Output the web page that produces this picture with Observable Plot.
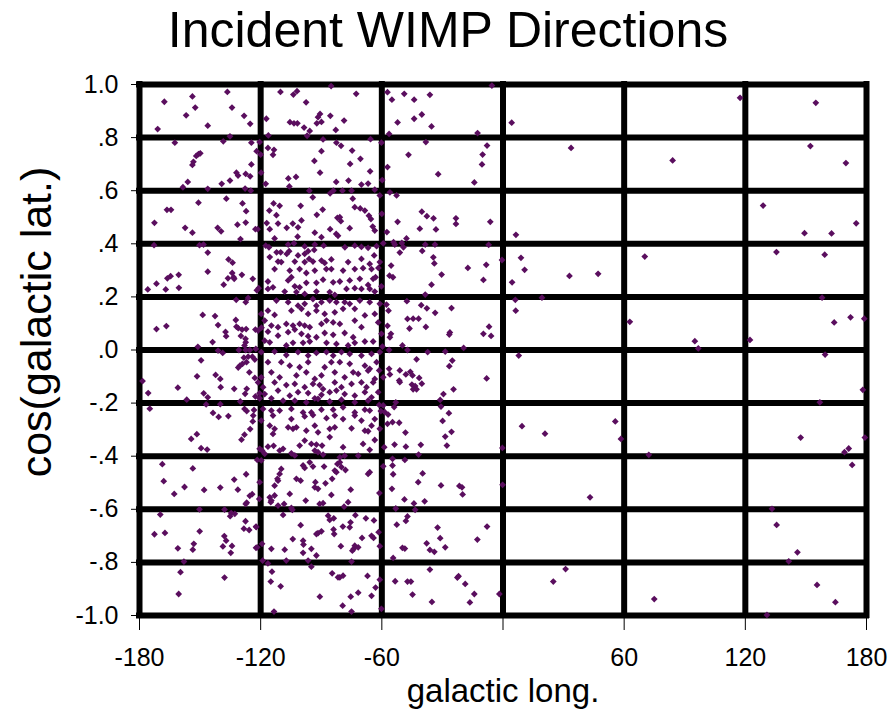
<!DOCTYPE html>
<html><head><meta charset="utf-8">
<script src="https://cdn.jsdelivr.net/npm/d3@7"></script>
<script src="https://cdn.jsdelivr.net/npm/@observablehq/plot@0.6"></script>
<style>body{margin:0;background:#fff;}</style>
</head><body><div id="chart"></div>
<script>
const title = "Incident WIMP Directions";
const xLabel = "galactic long.";
const yLabel = "cos(galactic lat.)";
const xTicks = [-180, -120, -60, 0, 60, 120, 180];
const xTickLabels = ["-180", "-120", "-60", "", "60", "120", "180"];
const yTicks = [1, 0.8, 0.6, 0.4, 0.2, 0, -0.2, -0.4, -0.6, -0.8, -1];
const yTickLabels = ["1.0", ".8", ".6", ".4", ".2", ".0", "-.2", "-.4", "-.6", "-.8", "-1.0"];
const gridLon = [-180, -120, -60, 0, 60, 120, 180];
const gridLat = [-1, -0.8, -0.6, -0.4, -0.2, 0, 0.2, 0.4, 0.6, 0.8, 1];

// longitude -180..-120
const bandA = [
[-153.8,0.955],[-136.5,0.972],[-167.7,0.935],[-152.4,0.913],[-134.2,0.913],[-156.9,0.884],[-128.2,0.882],[-125.2,0.852],[-146.2,0.845],[-171,0.832],[-162.5,0.781],[-138.5,0.786],[-135.2,0.805],[-124.6,0.781],
[-150.8,0.738],[-151.9,0.731],[-149.9,0.741],[-153.3,0.709],[-153.8,0.697],[-124.6,0.699],[-119.8,0.668],[-132,0.668],[-131.2,0.657],[-127.4,0.663],[-125.2,0.654],[-135.2,0.638],[-139.3,0.626],[-156.1,0.633],[-158.5,0.613],[-146.2,0.607],[-127.7,0.608],[-124.9,0.6],[-137,0.57],[-150.8,0.555],[-166.4,0.528],[-164.4,0.528],[-129,0.552],[-127.2,0.523],[-172.6,0.479],[-157.4,0.46],[-153.8,0.442],[-141.3,0.46],[-139.6,0.447],[-131.5,0.472],[-127.4,0.48],[-122.6,0.455],[-130,0.418],[-172.8,0.395],[-150.3,0.395],[-148.3,0.397],[-146.2,0.367],
[-135.9,0.341],[-133.9,0.329],[-146.2,0.295],[-134.1,0.29],[-129.3,0.283],[-136.2,0.27],[-133.4,0.274],[-133.1,0.268],[-164.6,0.278],[-166.2,0.27],[-160.6,0.283],[-171.6,0.25],[-175.9,0.228],[-167,0.228],[-160.5,0.234],[-138.3,0.246],[-123.9,0.268],[-121,0.233],[-121.9,0.225],
[-132.1,0.189],[-127.4,0.18],[-126.2,0.196],[-148.7,0.132],[-142.6,0.128],[-171.6,0.079],[-166.7,0.09],[-141.1,0.094],[-132.3,0.113],[-132,0.088],[-131.1,0.082],[-129.2,0.077],[-127.2,0.079],[-122.6,0.077],[-119.6,0.084],[-137.4,0.068],[-137.1,0.052],[-129.8,0.053],[-127.5,0.042],[-127.4,0.029],[-128,0.017],[-143.8,0.03],[-151.1,0.012],[-141.1,-0.002],[-138.8,-0.011],[-130.8,0],[-127.4,0],[-125.4,0],[-122.4,0.004],
[-126.2,-0.025],[-128.3,-0.029],[-124.1,-0.025],[-122.9,-0.036],[-127,-0.046],[-130.3,-0.059],[-129,-0.052],[-131.1,-0.066],[-149.5,-0.039],[-178.5,-0.117],[-175.7,-0.162],[-161,-0.142],[-156.6,-0.187],[-151.5,-0.099],[-142.3,-0.094],[-140,-0.109],[-139.8,-0.14],[-133.1,-0.146],[-125.6,-0.084],[-122.9,-0.105],[-126.9,-0.146],[-127.7,-0.165],[-148.2,-0.163],[-146.2,-0.178],[-122.6,-0.175],[-120.6,-0.163],[-130.1,-0.194],[-140,-0.204],[-147,-0.205],[-174.9,-0.221],[-128,-0.222],[-126.9,-0.23],[-123.3,-0.226],[-143.6,-0.237],[-140.8,-0.252],[-136,-0.249],[-123.7,-0.247],[-123.9,-0.269],[-125.2,-0.298],[-151.6,-0.317],[-128,-0.319],
[-154.4,-0.335],[-149.5,-0.37],[-146.5,-0.375],[-129.5,-0.338],[-168.7,-0.43],[-153.6,-0.446],[-168,-0.494],[-127.2,-0.468],[-133.1,-0.488],[-157.7,-0.516],[-148,-0.527],[-162.8,-0.542],[-140,-0.518],[-131.3,-0.526],[-125.4,-0.549],[-124.2,-0.543],[-126.9,-0.575],[-127.4,-0.58],[-150.3,-0.6],[-137.9,-0.601],[-169.7,-0.62],[-134.6,-0.614],[-132.8,-0.617],[-135.1,-0.626],[-127.5,-0.645],[-128.3,-0.673],[-125.7,-0.678],[-122.3,-0.665],[-172.6,-0.694],[-167.4,-0.689],[-150.2,-0.683],[-138,-0.701],[-137.1,-0.718],[-153.1,-0.73],[-153.6,-0.752],[-161,-0.747],[-138.7,-0.74],[-134.2,-0.738],[-134.8,-0.764],[-122.3,-0.745],[-158,-0.797],[-119,-0.793],[-159.7,-0.837],[-137.9,-0.857],[-160.6,-0.919]
];

// longitude -120..-60, upper
const bandB = [
[-85.1,0.994],[-110.2,0.972],[-102,0.975],[-103.8,0.962],[-72.7,0.965],[-97.5,0.933],[-117.2,0.871],[-105.5,0.858],[-103.5,0.854],[-101.8,0.854],[-90.6,0.889],[-91.6,0.877],[-92.2,0.854],[-89.9,0.859],[-85.5,0.882],[-78.7,0.864],[-98.5,0.838],[-95.7,0.825],[-97,0.807],[-82.8,0.829],[-116.2,0.808],[-89.1,0.793],[-82.5,0.781],[-80.2,0.769],[-65.6,0.794],[-60.2,0.781],[-120.5,0.783],[-122,0.749],[-120,0.736],[-116.4,0.761],[-113.4,0.754],[-113.9,0.735],[-89.9,0.749],[-74.7,0.751],[-93.4,0.712],[-70.6,0.72],[-75.7,0.701],[-90.6,0.668],[-65.8,0.673],[-106.3,0.646],[-102.5,0.652],[-117.5,0.626],[-105.8,0.616],[-82.6,0.633],[-76.5,0.638],[-70.1,0.623],[-66.8,0.627],[-59.8,0.64],[-95.9,0.6],[-84,0.6],[-85.6,0.59],[-79.5,0.6],[-75,0.6],[-63.5,0.604],[-61,0.582],[-94.2,0.575],[-74.4,0.57],[-113.6,0.552],[-110.6,0.543],[-100.2,0.543],[-115.7,0.525],[-112.2,0.508],[-73.4,0.538],[-70.7,0.533],[-68.4,0.525],[-89.3,0.529],[-92.2,0.509],[-66.4,0.506],[-65.4,0.493],[-82,0.498],[-80.8,0.5],[-80.3,0.485],[-99.8,0.488],[-104.1,0.476],[-111.4,0.476],[-117,0.478],[-107.1,0.46],[-101.5,0.462],[-115.5,0.455],[-85.6,0.455],[-64.5,0.465],[-63.5,0.45],[-75.9,0.459],[-93.2,0.442],[-81.7,0.43],[-82.6,0.437],[-101.7,0.427],[-89.9,0.425],[-113.1,0.42],[-121.5,0.455],[-117.5,0.393],[-115.9,0.387],[-106.4,0.397],[-103.5,0.402],[-98.2,0.39],[-93.2,0.397],[-88.8,0.393],[-78.3,0.387],[-73.4,0.393],[-70.1,0.388],[-66.8,0.385],[-62.6,0.391],[-96.5,0.372],[-93.5,0.377],[-98.2,0.362],[-112.1,0.368],[-110.1,0.368],[-107.1,0.362],[-105.9,0.372],[-101.5,0.356],[-63.8,0.356]
];

// longitude -120..-60, middle
const bandC = [
[-115.5,0.35],[-111.4,0.333],[-109.8,0.331],[-103.1,0.333],[-98.2,0.331],[-96,0.343],[-94.1,0.333],[-89.9,0.337],[-88.3,0.328],[-85,0.341],[-76.7,0.331],[-70.1,0.343],[-66,0.324],[-61,0.331],
[-113.1,0.305],[-105.6,0.299],[-100.7,0.305],[-97.4,0.29],[-93.2,0.299],[-87.5,0.305],[-85,0.305],[-79.2,0.299],[-73.4,0.305],[-69.3,0.308],[-65.1,0.305],[-63.1,0.274],
[-116.4,0.258],[-106.4,0.262],[-104.8,0.274],[-103.1,0.24],[-100.7,0.236],[-97.4,0.253],[-92.4,0.253],[-89.1,0.265],[-84.1,0.255],[-80.8,0.258],[-75.9,0.262],[-70.9,0.268],[-66.8,0.245],[-64.3,0.268],
[-116.4,0.23],[-113.9,0.236],[-108.1,0.22],[-102.3,0.218],[-98.2,0.211],[-92.4,0.22],[-85.8,0.218],[-83.3,0.208],[-77.5,0.23],[-73.4,0.233],[-70.1,0.23],[-66,0.23],[-63.5,0.22],[-60.2,0.24],
[-112.2,0.186],[-106.4,0.18],[-101.5,0.167],[-98.2,0.174],[-94.1,0.192],[-92.4,0.167],[-89.9,0.18],[-85.8,0.186],[-82.5,0.18],[-78.4,0.18],[-75.9,0.174],[-70.9,0.186],[-66,0.18],[-61,0.174],
[-119.7,0.136],[-116.4,0.148],[-113.1,0.132],[-104.8,0.148],[-99.8,0.155],[-96.5,0.136],[-92.4,0.148],[-88.3,0.136],[-83.3,0.142],[-79.2,0.155],[-73.4,0.155],[-68.4,0.13],[-63.5,0.136],
[-118,0.111],[-114.7,0.092],[-111.4,0.086],[-107.3,0.098],[-104,0.092],[-100.7,0.098],[-98.2,0.092],[-95.7,0.086],[-89.9,0.098],[-87.4,0.111],[-84.1,0.104],[-80.8,0.098],[-73.4,0.111],[-70.1,0.086],[-61.8,0.104],
[-121.3,0.073],[-116.4,0.069],[-111.4,0.054],[-106.4,0.067],[-103.1,0.077],[-99.8,0.061],[-96.5,0.052],[-92.4,0.048],[-88.3,0.064],[-84.1,0.057],[-78.4,0.064],[-74.2,0.048],[-68.4,0.032],[-64.3,0.032],[-60.2,0.061],
[-118,0.035],[-115.5,0.029],[-107.3,0.017],[-104,0.027],[-99,0.027],[-95.7,0.032],[-87.4,0.027],[-82.5,0.023],[-76.7,0.017],[-73.4,0.027],
[-119.7,-0.008],[-113.1,-0.006],[-107.3,-0.019],[-101.5,-0.008],[-96.5,-0.021],[-92.4,-0.011],[-87.4,-0.008],[-84.1,-0.021],[-80,-0.008],[-75.9,-0.015],[-70.1,-0.021],[-65.1,-0.015],[-61,-0.008],
[-116.4,-0.046],[-109.8,-0.046],[-105.6,-0.059],[-100.7,-0.065],[-96.5,-0.046],[-88.3,-0.065],[-85,-0.046],[-80.8,-0.046],[-75.9,-0.052],[-68.4,-0.059],[-66,-0.071],[-62.6,-0.046],
[-119.7,-0.103],[-114.7,-0.084],[-110.6,-0.103],[-102.3,-0.096],[-97.4,-0.084],[-93.2,-0.109],[-89.9,-0.096],[-83.3,-0.084],[-78.4,-0.103],[-74.2,-0.084],[-71.7,-0.09],[-66.8,-0.078],[-63.5,-0.109],[-59.3,-0.103],
[-121.3,-0.122],[-118.8,-0.14],[-113.1,-0.122],[-107.3,-0.132],[-103.1,-0.128],[-98.2,-0.14],[-94.1,-0.128],[-90.8,-0.132],[-89.1,-0.147],[-83.3,-0.122],[-80,-0.14],[-75,-0.128],[-70.1,-0.122],[-67.6,-0.14],[-64.3,-0.122],
[-118,-0.166],[-111.4,-0.153],[-105.6,-0.172],[-101.5,-0.159],[-96.5,-0.162],[-93.2,-0.182],[-89.9,-0.169],[-85.8,-0.159],[-82.5,-0.153],[-78.4,-0.166],[-73.4,-0.172],[-68.4,-0.159],[-65.1,-0.178],[-61.8,-0.159],
[-120.5,-0.182],[-114.7,-0.182],[-108.9,-0.191],[-103.1,-0.191],[-97.4,-0.197],[-91.6,-0.184],[-85.8,-0.194],[-80,-0.187],[-73.4,-0.197],[-66.8,-0.191],
[-118.8,-0.222],[-114.7,-0.228],[-110.6,-0.228],[-104.8,-0.222],[-99,-0.235],[-94.9,-0.235],[-89.9,-0.225],[-84.1,-0.225],[-79.2,-0.216],[-73.4,-0.235],[-68.4,-0.225],[-66,-0.228],
[-113.9,-0.247],[-104.8,-0.26],[-98.2,-0.25],[-94.1,-0.245],[-87.4,-0.257],[-83.3,-0.247],[-79.2,-0.26],[-73.4,-0.247],[-70.1,-0.266],[-63.5,-0.26],
[-119.7,-0.266],[-115.5,-0.285],[-113.1,-0.297],[-106.4,-0.291],[-104,-0.297],[-102.3,-0.291],[-97.4,-0.304],[-93.2,-0.285],[-85.8,-0.297],[-83.3,-0.291],[-75,-0.295],[-68.4,-0.304],[-65.1,-0.285],[-61,-0.297]
];

// longitude -120..-60, lower
const bandD = [
[-113.9,-0.316],[-91.6,-0.31],[-85.8,-0.328],[-66.8,-0.306],
[-116.4,-0.364],[-113.6,-0.361],[-120.5,-0.372],[-119.3,-0.379],[-118,-0.391],[-110.6,-0.379],[-108.9,-0.372],[-104.8,-0.389],[-103.1,-0.397],[-100.7,-0.36],[-98.2,-0.341],[-94.9,-0.354],[-92.4,-0.356],[-89.6,-0.36],[-93.2,-0.379],[-91.6,-0.385],[-89.1,-0.394],[-79.2,-0.366],[-80.8,-0.404],[-78.4,-0.398],[-71.7,-0.398],[-69.3,-0.354],[-66,-0.376],[-63.5,-0.339],
[-121.7,-0.414],[-119.7,-0.416],[-109.8,-0.448],[-110.6,-0.467],[-111.4,-0.492],[-113.1,-0.511],[-111.7,-0.485],[-99,-0.435],[-98.2,-0.444],[-95.7,-0.423],[-94.1,-0.439],[-88.6,-0.439],[-82,-0.429],[-80.8,-0.423],[-80,-0.441],[-78,-0.452],[-83.3,-0.454],[-82.5,-0.46],[-102.3,-0.485],[-100.2,-0.492],[-92.9,-0.498],[-93.2,-0.517],[-91.6,-0.523],[-87.9,-0.502],[-84.6,-0.485],[-75.4,-0.526],[-66.8,-0.467],[-66,-0.46],[-61.2,-0.539],
[-120.5,-0.498],[-115.5,-0.555],[-114.7,-0.567],[-113.1,-0.548],[-115,-0.573],[-111.4,-0.586],[-108.4,-0.58],[-105.6,-0.542],[-97.7,-0.567],[-90.8,-0.58],[-89.1,-0.577],[-85,-0.546],[-78.7,-0.59],[-76.7,-0.573],[-120.7,-0.561],
[-104.3,-0.602],[-104.8,-0.595],[-108.9,-0.621],[-122.2,-0.667],[-119.3,-0.73],[-121.7,-0.743],
[-86.6,-0.624],[-85.8,-0.64],[-83.8,-0.634],[-100.2,-0.66],[-89.9,-0.683],[-91.6,-0.69],[-92.4,-0.693],[-83.9,-0.676],[-83.6,-0.693],[-79.3,-0.665],[-75.5,-0.649],[-75.9,-0.668],[-73.1,-0.622],[-67.9,-0.634],[-63.9,-0.642],[-69.8,-0.708],[-65.1,-0.7],[-64.1,-0.708],[-80.3,-0.739],[-73.4,-0.737],[-73.9,-0.749],[-71.7,-0.743],[-74.6,-0.756],[-61,-0.739],
[-104.1,-0.712],[-99,-0.718],[-98.8,-0.733],[-114.7,-0.749],[-108.1,-0.752],[-94.9,-0.749],[-99,-0.764],[-92.4,-0.774],[-107.3,-0.793],[-96.5,-0.793],[-94.9,-0.816],[-116.4,-0.804],
[-75,-0.797],[-84.6,-0.841],[-80.8,-0.856],[-79.2,-0.85],[-81.7,-0.856],[-67.1,-0.851],[-114.4,-0.835],[-115,-0.872],[-110.1,-0.89],[-90.7,-0.929],[-75.4,-0.929],[-71.7,-0.914],[-65.1,-0.926],[-63.1,-0.895],[-79.4,-0.963],[-75,-0.985],[-113.4,-0.985],[-60.2,-0.975]
];

// longitude -60..0
const bandE = [
[-57.2,0.971],[-48.9,0.965],[-55,0.943],[-44,0.943],[-36.2,0.961],[-5.5,0.996],[-40.2,0.887],[-44,0.871],[-52.2,0.857],[-35.4,0.842],[-56.4,0.814],[-12.6,0.817],[-38.2,0.783],[-7.9,0.77],[-46.8,0.735],[-10.1,0.736],[-57.2,0.689],[-10.4,0.699],[-32.1,0.662],[-14.2,0.631],[-56,0.594],[-52.7,0.582],
[-60,0.513],[-40.2,0.521],[-37.7,0.504],[-34.4,0.496],[-23.3,0.496],[-23.3,0.475],[-6.3,0.483],[-52.2,0.483],[-41.2,0.457],[-33.2,0.454],[-57.5,0.444],[-47.8,0.42],[-54.2,0.406],[-50.1,0.403],[-53.6,0.397],[-59.3,0.402],[-38.5,0.397],[-33.7,0.397],[-7.1,0.396],[-51.1,0.367],[-49.3,0.387],[-40,0.373],[-34.5,0.349],[-34,0.326],[-61.7,0.309],[-0.5,0.339],[-55.4,0.318],[-56.2,0.28],[-54.5,0.274],[-17.4,0.309],[-8.3,0.321],[-30.4,0.284],[-9.7,0.264],[-35.4,0.246],
[-38.5,0.209],[-47.6,0.184],[-57.7,0.171],[-56.7,0.148],[-40.5,0.169],[-37.7,0.157],[-25.5,0.158],[-33.6,0.14],[-47.3,0.117],[-44.5,0.118],[-41.8,0.118],[-46.3,0.081],[-38.2,0.087],[-57.2,0.091],[-26.3,0.066],[-26.6,0.058],[-9.7,0.061],[-5.9,0.053],[-6.9,0.088],[-55.5,0.061],[-56,0.048],[-49.8,0.017],[-19.5,0.008],[-59.7,0.013],
[-56.4,0],[-47.3,0],[-37.3,-0.008],[-28.6,-0.006],[-42.8,-0.035],[-25.1,-0.04],[-26.6,-0.061],[-61.3,-0.077],[-56.4,-0.071],[-56,-0.092],[-51.1,-0.077],[-51.4,-0.115],[-51.1,-0.121],[-48.1,-0.092],[-45.9,-0.082],[-44.8,-0.096],[-41.5,-0.105],[-40.2,-0.127],[-45.1,-0.13],[-43.5,-0.136],[-44.5,-0.148],[-42.8,-0.148],[-8.1,-0.107],[-24.5,-0.148],[-29.5,-0.166],[-31.1,-0.188],[-30.7,-0.213],[-53.1,-0.197],
[-61.3,-0.207],[-59.3,-0.209],[-60.5,-0.23],[-58.5,-0.234],[-56.9,-0.243],[-53.9,-0.215],[-26.8,-0.238],[-57.2,-0.278],[-54.7,-0.272],[-51.4,-0.274],[-29.9,-0.267],[-48.3,-0.311],[-25.5,-0.308],[-28.6,-0.326],[-53.7,-0.356],[-48.1,-0.364],[-40.7,-0.357],[-27.8,-0.36],[-0.3,-0.369],[-41.8,-0.394],[-58.8,-0.366],
[-54.7,-0.41],[-54.7,-0.435],[-54.4,-0.468],[-48.6,-0.414],[-39.8,-0.465],[-42,-0.498],[-55,-0.523],[-59.3,-0.438],[-30.7,-0.51],[-21.6,-0.512],[-20.3,-0.517],[-20,-0.544],[-0.2,-0.508],[-48.8,-0.563],[-44.1,-0.578],[-38.8,-0.57],[-53.1,-0.597],
[-43.5,-0.602],[-47.3,-0.627],[-48.1,-0.644],[-52.6,-0.658],[-61.6,-0.686],[-32.4,-0.669],[-31.1,-0.709],[-28.6,-0.743],[-7.9,-0.665],[-12.7,-0.714],[-37.8,-0.728],[-36.2,-0.753],[-34,-0.76],[-49.8,-0.745],[-48.6,-0.748],[-54.4,-0.783],
[-36.2,-0.827],[-22,-0.852],[-22.6,-0.857],[-53.4,-0.871],[-47.3,-0.872],[-45.6,-0.872],[-18.7,-0.881],[-61,-0.865],[-44.8,-0.921],[-14.2,-0.919],[-1.8,-0.919],[-35.2,-0.949],[-16.4,-0.951]
];

// longitude 0..180
const bandF = [
[4.3,0.856],[33.7,0.761],[6.4,0.434],[8.9,0.347],[10.7,0.302],[4.5,0.255],[32.9,0.279],[47.1,0.287],[19.3,0.197],[6.1,0.189],[6.3,0.148],
[7.8,-0.021],[9.4,-0.287],[20.8,-0.315],[55.6,-0.269],[58.4,-0.335],[43.1,-0.555],[31,-0.825],[24.9,-0.872],
[117.4,0.95],[154.9,0.931],[84,0.714],[152.2,0.768],[169.8,0.704],[128.8,0.544],[174.9,0.477],[149.3,0.44],[162.7,0.439],[70.2,0.352],[135.4,0.369],[159.3,0.359],[158,0.197],[62.8,0.106],[164,0.104],[172.1,0.123],[178.9,0.118],[95,0.033],[96.7,0.006],[122.3,0.038],
[159.5,-0.017],[178.2,-0.15],[156.9,-0.197],[72.2,-0.395],[147.4,-0.33],[179.2,-0.33],[171.2,-0.371],[169.1,-0.385],[172.9,-0.433],[133.2,-0.598],[135.5,-0.659],[145.8,-0.762],[141.5,-0.796],[74.9,-0.938],[155.5,-0.885],[164.6,-0.95],[130.7,-0.998]
];

const points = [...bandA, ...bandB, ...bandC, ...bandD, ...bandE, ...bandF].map(([lon, lat]) => ({lon, lat}));

const diamond = {
  draw(ctx, size) {
    const s = Math.sqrt(size / 2);
    ctx.moveTo(0, -s); ctx.lineTo(s, 0); ctx.lineTo(0, s); ctx.lineTo(-s, 0); ctx.closePath();
  }
};

const chart = Plot.plot({
  width: 890,
  height: 725,
  marginLeft: 139,
  marginRight: 24,
  marginTop: 84,
  marginBottom: 110,
  style: {fontFamily: "'Liberation Sans', Arial, sans-serif", color: "#000", background: "#fff"},
  x: {domain: [-180, 180]},
  y: {domain: [-1, 1]},
  marks: [
    Plot.ruleX(gridLon, {stroke: "#000", strokeWidth: 6, strokeLinecap: "square"}),
    Plot.ruleY(gridLat, {stroke: "#000", strokeWidth: 6, strokeLinecap: "square"}),
    Plot.dot(points, {x: "lon", y: "lat", symbol: diamond, r: 2.7, fill: "#5a0e5e", stroke: "none"}),
    Plot.axisX(xTicks, {tickSize: 15, tickPadding: 18, fontSize: 25, label: null, stroke: "#000",
      tickFormat: (d) => xTickLabels[xTicks.indexOf(d)]}),
    Plot.axisY(yTicks, {tickSize: 8, tickPadding: 13, fontSize: 25, label: null, stroke: "#000",
      tickFormat: (d) => yTickLabels[yTicks.indexOf(d)]}),
    Plot.text([title], {text: (d) => d, frameAnchor: "top", lineAnchor: "middle", dx: -55, dy: -54, fontSize: 50, fill: "#000"}),
    Plot.text([xLabel], {text: (d) => d, frameAnchor: "bottom", lineAnchor: "middle", textAnchor: "middle", dy: 76, fontSize: 33, fill: "#000"}),
    Plot.text([yLabel], {text: (d) => d, frameAnchor: "left", lineAnchor: "middle", textAnchor: "middle", dx: -102, dy: -28, rotate: -90, fontSize: 43, fill: "#000"})
  ]
});
document.getElementById("chart").appendChild(chart);
</script>
</body></html>
